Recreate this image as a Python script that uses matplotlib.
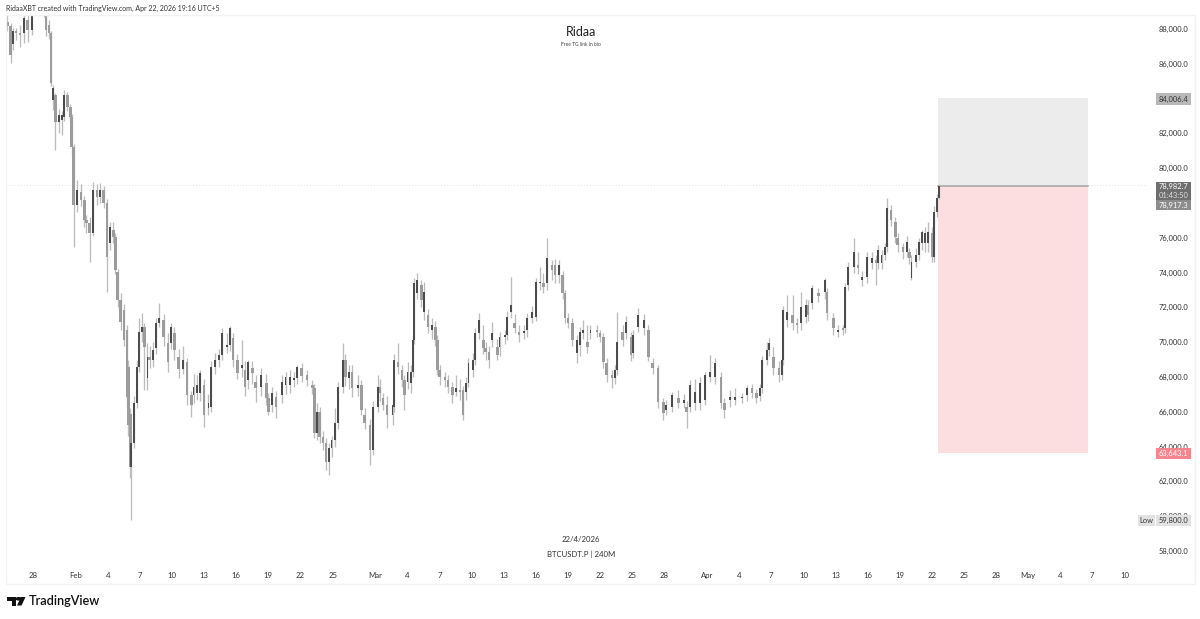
import matplotlib
matplotlib.use('Agg')
import matplotlib.pyplot as plt
import numpy as np
from matplotlib.patches import Rectangle, Polygon, Circle

plt.rcParams['font.family'] = ['Lato', 'DejaVu Sans']

# candles, day of year 2026, prices in thousands
bar_day = [25.6,25.9,26.1,26.4,26.8,27.2,27.5,27.9,28.3,28.7,
    29.0,29.2,29.5,29.7,29.9,30.1,30.4,30.7,30.9,31.2,
    31.5,31.6,31.8,32.1,32.5,32.8,33.0,33.3,33.6,34.0,
    34.3,34.6,34.9,35.2,35.5,35.7,35.9,36.2,36.5,36.8,
    36.9,37.1,37.2,37.4,37.7,37.9,38.2,38.4,38.7,38.9,
    39.2,39.5,39.8,40.2,40.6,40.9,41.2,41.6,42.0,42.4,
    42.8,43.0,43.3,43.6,44.0,44.4,44.6,45.0,45.4,45.7,
    46.1,46.4,46.7,47.1,47.5,47.8,48.1,48.5,48.8,49.3,
    49.8,50.0,50.3,50.7,51.3,51.6,52.0,52.4,52.7,53.1,
    53.6,54.1,54.3,54.5,54.8,55.1,55.4,55.7,55.9,56.2,
    56.5,57.0,57.2,57.5,57.8,58.4,58.7,59.0,59.5,59.8,
    60.2,60.4,60.7,61.1,61.6,61.7,62.1,62.5,62.7,63.0,
    63.3,63.5,63.6,63.9,64.3,64.5,64.9,65.3,65.6,65.8,
    66.0,66.5,66.8,67.2,67.5,67.9,68.2,68.5,68.7,69.1,
    69.3,69.7,70.1,70.3,70.6,70.9,71.4,71.6,72.1,72.3,
    72.7,73.0,73.4,73.9,74.2,74.6,75.0,75.4,75.7,76.0,
    76.5,76.8,77.2,77.5,77.7,78.0,78.4,78.8,79.1,79.4,
    79.8,80.1,80.7,81.0,81.3,81.6,82.1,82.4,82.6,83.1,
    83.4,83.9,84.1,84.5,85.1,85.5,85.9,86.4,86.9,87.2,
    87.7,88.3,88.8,89.1,89.4,89.9,90.3,90.8,91.3,91.7,
    92.3,92.6,93.1,93.6,94.3,94.7,95.2,95.6,95.9,96.1,
    96.6,96.8,97.2,97.7,98.0,98.1,98.5,99.0,99.4,99.8,
    100.2,100.4,100.8,101.4,102.0,102.2,102.8,103.2,103.7,103.9,
    104.2,104.7,105.1,105.5,105.9,106.4,106.8,107.0,107.3,107.6,
    107.8,108.2,108.6,108.8,109.3,109.7,109.9,110.1,110.5,110.8,
    111.1,111.4,111.6,112.0,112.2,112.5,112.7]

bar_open = [88.40,88.17,87.14,87.88,87.77,87.77,88.52,87.94,89.3,89.6,
    89.4,88.8,88.23,87.77,83.92,84.21,82.66,82.77,82.94,84.21,
    83.52,82.94,81.22,77.9,78.63,78.17,77.02,76.85,76.28,78.75,
    78.35,78.75,78.0,75.7,76.45,76.05,74.03,72.43,71.85,70.7,
    68.6,65.9,62.83,64.2,66.5,68.6,70.6,70.9,67.95,69.15,
    68.98,69.67,71.1,71.28,69.95,69.95,70.53,69.15,68.46,68.86,
    66.96,66.96,67.08,67.08,67.54,66.22,66.28,68.57,68.98,69.27,
    69.73,69.84,70.24,68.98,68.52,68.4,67.83,68.52,67.71,67.43,
    67.66,66.8,66.39,66.85,66.97,67.54,67.54,67.83,67.94,68.52,
    68.12,67.54,67.37,64.78,65.99,64.55,64.21,63.12,63.92,64.38,
    65.36,67.43,68.98,67.95,68.29,67.37,67.54,65.82,65.24,63.81,
    66.28,67.43,66.79,66.39,65.82,66.28,68.86,68.4,67.83,67.71,
    67.66,68.29,70.13,72.83,73.3,71.74,71.56,70.7,70.87,70.13,
    68.4,68.0,67.83,67.43,67.14,67.25,67.25,67.14,67.66,68.4,
    68.98,70.53,70.13,69.67,69.44,70.13,69.73,69.73,70.3,70.42,
    71.74,71.1,70.59,70.53,70.7,71.39,71.45,73.4,73.4,73.4,
    74.44,74.44,73.86,73.86,72.83,71.39,71.1,69.38,69.84,70.53,
    70.01,70.53,70.7,70.53,70.3,68.8,68.12,67.94,68.4,70.59,
    70.53,70.3,69.38,70.87,70.82,70.7,68.81,68.52,66.56,66.1,
    66.28,66.79,66.5,66.28,66.28,66.5,66.5,66.68,68.0,68.0,
    68.0,66.5,66.68,66.68,66.79,66.96,67.37,67.08,66.91,67.37,
    68.98,69.55,69.15,68.52,68.12,68.98,71.28,71.56,71.1,71.1,
    71.45,72.14,72.25,72.83,72.88,72.88,71.39,70.59,70.82,70.82,
    73.29,74.32,74.44,73.58,73.75,74.55,74.73,74.55,74.55,75.0,
    75.47,77.6,76.9,76.0,75.47,75.18,75.18,73.69,74.61,75.0,
    75.7,75.7,75.7,76.28,74.9,77.5,78.3]

bar_close = [88.17,86.5,87.88,87.77,87.66,88.63,87.94,88.75,89.6,89.4,
    89.2,87.94,87.77,84.9,84.61,82.66,83.06,83.06,84.21,83.52,
    82.94,81.22,77.9,78.75,78.17,77.02,76.85,76.28,78.75,78.35,
    78.75,78.0,74.9,76.6,76.05,74.15,72.43,71.16,70.13,66.85,
    65.24,62.83,64.2,66.5,68.6,70.6,70.9,69.7,69.15,68.98,
    69.55,71.1,71.39,70.3,68.86,70.9,69.55,68.46,68.98,66.96,
    66.39,67.43,67.54,68.23,65.82,66.5,68.57,68.98,69.27,70.53,
    69.84,70.82,68.98,68.23,68.69,67.43,68.86,68.23,67.37,68.12,
    66.8,65.99,67.08,66.28,67.71,68.0,68.0,67.94,68.58,68.06,
    67.83,67.37,64.78,65.99,64.55,64.21,63.12,63.92,64.38,65.36,
    67.43,68.98,68.0,68.29,67.37,67.54,66.1,65.36,63.81,66.28,
    67.43,67.08,66.39,65.82,66.39,68.98,68.58,67.83,66.96,68.29,
    68.29,70.13,73.4,73.58,72.43,72.88,70.87,70.98,70.13,68.4,
    68.0,67.83,67.43,66.96,67.37,67.14,65.82,67.66,68.81,68.98,
    70.53,71.27,69.67,69.44,68.98,70.53,69.27,70.3,70.42,71.45,
    72.14,70.82,70.42,70.64,71.39,71.74,73.46,73.46,73.17,74.84,
    74.15,73.86,74.44,72.83,71.39,71.1,70.13,70.13,70.59,70.7,
    69.72,70.7,70.59,70.3,68.86,68.12,67.94,68.4,70.01,70.13,
    71.16,69.27,70.42,71.56,71.28,69.15,68.52,66.56,65.93,66.39,
    66.96,66.5,66.68,65.99,67.54,67.14,67.66,68.12,68.29,68.81,
    66.5,66.1,66.85,66.85,66.85,67.37,67.08,66.79,67.37,68.98,
    69.55,69.95,68.52,68.12,68.98,71.85,71.74,71.1,70.99,72.0,
    72.14,71.56,73.12,72.66,73.58,71.68,70.82,70.7,70.7,73.17,
    74.32,75.18,74.27,73.75,74.9,74.84,74.55,75.3,75.0,75.47,
    77.7,77.02,76.05,75.59,75.18,75.76,74.84,74.61,75.0,75.76,
    76.33,76.28,76.33,74.9,77.5,78.3,78.98]

bar_high = [88.9,88.35,88.06,88.06,88.23,88.9,88.9,89.2,90.2,90.0,
    89.8,89.3,88.5,87.9,84.8,84.3,83.4,83.3,84.5,84.4,
    83.7,83.1,81.4,79.3,79.1,78.4,77.3,77.2,79.2,79.1,
    79.15,79.0,78.2,76.9,76.9,76.3,74.2,72.8,72.2,71.0,
    69.0,66.2,64.6,66.9,69.0,71.4,71.7,71.1,69.96,69.8,
    70.0,71.4,72.25,71.6,70.5,71.1,70.9,69.6,69.8,69.1,
    67.2,68.2,68.1,68.4,67.9,67.0,68.9,69.4,69.6,70.8,
    70.5,70.93,70.5,69.3,70.1,68.9,69.0,68.9,68.1,68.5,
    68.2,67.1,67.4,67.2,68.1,68.3,68.4,68.3,68.7,68.8,
    68.4,67.8,67.6,66.5,66.3,64.9,64.5,64.2,64.6,66.2,
    67.7,69.96,69.3,68.7,68.7,68.1,67.8,66.2,65.6,66.6,
    68.1,67.9,67.1,66.9,66.7,69.3,69.96,68.7,68.1,68.86,
    68.7,70.4,73.7,73.98,73.6,73.46,71.9,71.4,71.2,70.4,
    68.7,68.29,68.1,67.7,68.1,67.9,67.5,68.0,69.1,69.4,
    70.8,71.66,71.0,70.0,69.8,71.15,70.2,70.6,70.7,71.8,
    73.75,71.6,71.0,71.0,71.7,72.1,73.7,74.3,74.0,75.99,
    74.73,74.8,74.7,74.1,73.0,71.7,71.4,70.4,70.9,71.3,
    71.0,71.0,71.0,70.7,70.5,69.1,68.4,68.7,71.74,71.0,
    71.5,70.6,70.7,71.97,71.6,71.0,69.1,68.7,66.8,66.7,
    67.14,67.25,67.0,66.6,67.8,67.9,68.0,68.3,69.27,69.1,
    68.3,66.8,67.25,67.37,67.1,67.54,67.6,67.3,67.6,69.2,
    70.0,70.24,69.7,68.9,69.2,72.1,72.72,72.7,71.4,72.9,
    72.5,72.4,73.3,73.1,73.7,73.1,71.7,71.0,71.0,73.4,
    74.6,75.99,75.2,74.1,75.2,75.2,75.0,75.6,75.3,75.7,
    78.3,77.9,77.2,76.3,75.7,76.1,75.4,75.0,75.4,76.0,
    76.45,76.6,76.9,76.6,77.8,78.5,79.1]

bar_low = [87.9,86.05,86.8,87.37,86.97,87.2,87.25,87.66,88.9,89.0,
    88.7,87.6,87.4,84.7,83.35,81.05,82.02,81.91,82.7,83.3,
    82.6,80.76,75.47,77.5,77.8,76.6,76.3,74.6,76.1,77.9,
    78.0,77.7,72.9,75.3,75.7,73.9,72.0,70.7,69.8,66.3,
    64.6,62.2,59.8,63.9,66.2,68.3,70.0,67.25,67.25,68.5,
    68.6,69.3,70.9,69.8,68.3,69.6,69.0,67.95,68.2,66.4,
    65.7,66.5,66.7,66.6,65.15,65.8,66.0,68.2,68.6,69.0,
    69.4,69.5,68.6,67.9,68.0,66.9,67.3,67.6,66.56,66.9,
    66.4,65.8,66.0,65.64,66.5,67.0,67.1,67.4,67.6,67.7,
    67.5,67.0,64.5,64.4,64.2,63.8,62.66,62.37,63.4,64.0,
    65.0,67.1,67.5,67.3,66.85,66.9,65.8,65.0,62.94,63.5,
    66.0,66.6,66.1,65.07,65.24,66.0,68.2,67.4,66.1,67.3,
    67.1,68.0,69.9,72.5,72.0,71.3,70.5,70.2,69.8,68.1,
    67.54,67.4,67.1,66.5,66.9,66.7,65.53,66.7,67.4,68.0,
    68.7,70.2,69.3,69.0,68.5,69.7,69.0,69.2,69.9,70.1,
    71.4,70.5,70.0,70.2,70.3,71.1,71.2,73.0,72.83,73.0,
    73.6,73.4,73.4,72.5,71.1,70.8,69.8,68.8,69.2,70.2,
    69.4,70.2,70.3,70.0,68.5,67.7,67.37,67.6,68.1,69.8,
    70.2,68.9,69.1,70.6,70.4,68.9,68.2,66.2,65.53,65.8,
    66.0,66.2,66.2,65.07,66.0,66.1,66.1,66.4,67.7,67.6,
    66.2,65.64,66.3,66.4,66.5,66.6,66.8,66.5,66.6,67.1,
    68.7,69.2,68.1,67.71,67.8,68.7,70.9,70.7,70.53,70.7,
    71.1,71.2,71.9,72.3,72.5,71.3,70.4,70.3,70.4,70.5,
    73.0,74.0,73.9,73.2,73.4,74.2,73.29,74.2,74.2,74.7,
    75.2,76.7,75.7,75.2,74.8,74.9,74.5,73.57,74.3,74.7,
    75.3,75.2,75.2,74.6,74.6,77.2,78.2]

entry_price = 78.9827
target_price = 84.0064
stop_price = 63.6431
pos_start = 112.6
pos_end = 126.6

price_ticks = [58,60,62,64,66,68,70,72,74,76,78,80,82,84,86,88]
hidden_ticks = [78,84]
date_ticks = [28,32,35,38,41,44,47,50,53,56,60,63,66,69,72,75,78,81,84,87,91,94,97,100,103,106,109,112,115,118,121,124,127,130]
date_labels = ['28','Feb','4','7','10','13','16','19','22','25','Mar','4','7','10','13','16','19','22','25','28',
               'Apr','4','7','10','13','16','19','22','25','28','May','4','7','10']

W, H = 1200, 619
TXT = 5.4
fig = plt.figure(figsize=(W/100, H/100), dpi=100)
fig.patch.set_facecolor('white')

def fx(px):
    return px / W

def fy(py):
    return 1 - py / H

# chart pane frame
fig.add_artist(Rectangle((fx(5.5), fy(583.5)), fx(1189), 568.5/H, fill=False, ec='#f2f2f2', lw=1,
                         transform=fig.transFigure))

ax = fig.add_axes([fx(6), fy(566), fx(1141), (566-15)/H])
ax.set_xlim(25.477, 132.11)
ax.set_ylim(57.14, 88.80)
for s in ax.spines.values():
    s.set_visible(False)
ax.patch.set_alpha(0)

day = np.array(bar_day)
op = np.array(bar_open)
cl = np.array(bar_close)
hi = np.array(bar_high)
lo = np.array(bar_low)
up = cl >= op

# position tool
ax.add_patch(Rectangle((pos_start, entry_price), pos_end-pos_start, target_price-entry_price,
                       fc='#ececec', ec='none', zorder=1))
ax.add_patch(Rectangle((pos_start, stop_price), pos_end-pos_start, entry_price-stop_price,
                       fc='#fcdde0', ec='none', zorder=1))
ax.plot([pos_start, pos_end], [entry_price, entry_price], color='#a3a3a3', lw=1.1, zorder=2)
ax.axhline(79.02, color='#e4e4e4', lw=0.7, ls=(0, (1, 2)), zorder=0)

ax.vlines(day, lo, hi, color='#bcbcbc', lw=0.95, zorder=3)
ax.bar(day[~up], (op-cl)[~up], bottom=cl[~up], width=0.24, color='#9c9c9c', lw=0, zorder=4)
ax.bar(day[up], (cl-op)[up], bottom=op[up], width=0.18, color='#4c4c4c', lw=0, zorder=5)

ax.yaxis.tick_right()
ax.set_yticks(price_ticks)
ax.set_yticklabels([f'{p*1000:,.1f}' if p not in hidden_ticks else '' for p in price_ticks])
ax.tick_params(axis='y', length=0, pad=30, labelsize=TXT, labelcolor='#333333')
for lab in ax.get_yticklabels():
    lab.set_ha('right')
ax.set_xticks(date_ticks)
ax.set_xticklabels(date_labels)
ax.tick_params(axis='x', length=0, pad=4.5, labelsize=5.6, labelcolor='#333333')

def price_tag(py, h, text, bg, fg, x0=1156, x1=1191):
    fig.add_artist(Rectangle((fx(x0), fy(py+h/2)), fx(x1-x0), h/H, fc=bg, ec='none', transform=fig.transFigure))
    fig.text(fx((x0+x1)/2), fy(py), text, color=fg, fontsize=TXT, ha='center', va='center')

price_tag(99, 11, '84,006.4', '#b8b8b8', '#333333')
fig.add_artist(Rectangle((fx(1156), fy(200)), fx(35), 18/H, fc='#6e6e6e', ec='none', transform=fig.transFigure))
fig.text(fx(1173.5), fy(186.5), '78,982.7', color='white', fontsize=TXT, ha='center', va='center')
fig.text(fx(1173.5), fy(195), '01:43:50', color='#dddddd', fontsize=TXT, ha='center', va='center')
price_tag(205, 10, '78,917.3', '#8c8c8c', 'white')
price_tag(453.5, 11, '63,643.1', '#f8858e', 'white')
price_tag(520.5, 11, '59,800.0', '#e2e2e2', '#333333')
price_tag(520.5, 11, 'Low', '#e2e2e2', '#333333', 1138, 1155)

fig.text(fx(6), fy(8), 'RidaaXBT created with TradingView.com, Apr 22, 2026 19:16 UTC+5', color='#333333',
         fontsize=5.0, ha='left', va='center')
fig.text(fx(581), fy(31.5), 'Ridaa', color='#222222', fontsize=9, ha='center', va='center')
fig.text(fx(581), fy(45), 'Free TG link in bio', color='#444444', fontsize=3.5, ha='center', va='center')
fig.text(fx(581), fy(540), '22/4/2026', color='#333333', fontsize=5.6, ha='center', va='center')
fig.text(fx(581), fy(554), 'BTCUSDT.P | 240M', color='#333333', fontsize=5.6, ha='center', va='center')

# logo
fig.add_artist(Polygon([(fx(7), fy(597)), (fx(16), fy(597)), (fx(16), fy(605.5)), (fx(11.5), fy(605.5)), (fx(11.5), fy(600.5)), (fx(7), fy(600.5))],
                       closed=True, fc='#111111', ec='none', transform=fig.transFigure))
fig.add_artist(Polygon([(fx(21), fy(597)), (fx(25.5), fy(597)), (fx(21.5), fy(605.5)), (fx(17), fy(605.5))],
                       closed=True, fc='#111111', ec='none', transform=fig.transFigure))
fig.add_artist(Circle((fx(18.8), fy(598.8)), 1.8/H, fc='#111111', ec='none', transform=fig.transFigure))
fig.text(fx(29), fy(601), 'TradingView', color='#111111', fontsize=9.1, fontweight='semibold',
         ha='left', va='center')

fig.savefig('out.png', dpi=100)
